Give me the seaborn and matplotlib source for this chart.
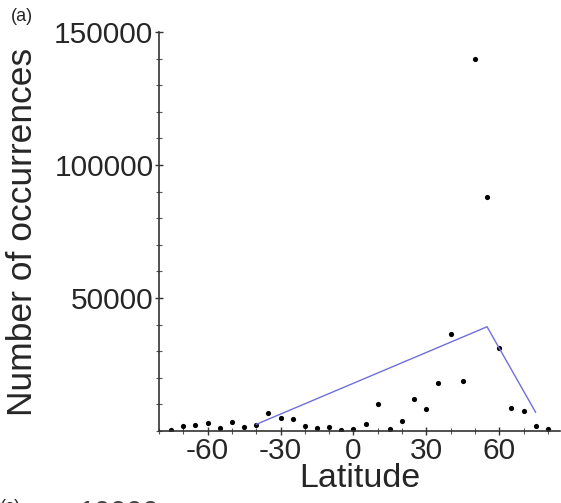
# %% IMPORTS
import matplotlib
matplotlib.use("Agg")
from matplotlib import ticker
import matplotlib.pyplot as plt
import pandas as pd
import seaborn as sns

# %% DATA
latitude = [-75, -70, -65, -60, -55, -50, -45, -40, -35, -30, -25, -20, -15, -10, -5, 0,
            5, 10, 15, 20, 25, 30, 35, 40, 45, 50, 55, 60, 65, 70, 75, 80]
occurrences = [500, 2000, 2400, 3000, 1000, 3500, 1400, 2400, 6800, 4900, 4400, 2000,
               1000, 1600, 400, 750, 2500, 10000, 750, 3900, 11900, 8300, 17900, 36300,
               18800, 140000, 88000, 31100, 8600, 7500, 1900, 750]

# Piecewise fit drawn in blue
fit_latitude = [-40, 55, 75]
fit_occurrences = [2500, 39200, 7000]

# %% PLOT
sns.set_style("ticks")
plt.rcParams["font.family"] = ["Liberation Sans", "DejaVu Sans"]
plt.rcParams["axes.unicode_minus"] = False

fig = plt.figure(figsize=(5.61, 5.03), dpi=100)
ax = fig.add_axes([0.2834, 0.1431, 0.7148, 0.7932])

df = pd.DataFrame({"lat": latitude, "n": occurrences})
fit = pd.DataFrame({"lat": fit_latitude, "n": fit_occurrences})

sns.lineplot(data=fit, x="lat", y="n", ax=ax, color="#6f6fdc", linewidth=1.0)
sns.scatterplot(data=df, x="lat", y="n", ax=ax, color="black", s=14, linewidth=0)

ax.set_xlim(-80, 85)
ax.set_ylim(0, 150000)
sns.despine(ax=ax)
for side in ["left", "bottom"]:
    ax.spines[side].set_color("#333333")
    ax.spines[side].set_linewidth(1.2)

ax.xaxis.set_major_locator(ticker.MultipleLocator(30))
ax.xaxis.set_minor_locator(ticker.MultipleLocator(10))
ax.yaxis.set_major_locator(ticker.MultipleLocator(50000))
ax.yaxis.set_minor_locator(ticker.MultipleLocator(10000))
ax.tick_params(axis="both", which="major", labelsize=21.5, direction="inout",
               length=6, width=1, color="#333333", pad=1)
ax.tick_params(axis="both", which="minor", direction="inout", length=4, width=0.8,
               color="#555555")
ax.set_yticks([50000, 100000, 150000])

ax.set_xlabel("Latitude", fontsize=24.5, labelpad=-1)
ax.set_ylabel("Number of occurrences", fontsize=25.5, labelpad=11)

# Panel letters (the next panel is cut off at the bottom edge)
fig.text(0.02, 0.985, "(a)", fontsize=13, va="top", ha="left")
fig.text(0.0, 0.008, "(c)", fontsize=13, va="top", ha="left")
fig.text(0.14, 0.008, "10000", fontsize=21, va="top", ha="left", color="#444444")

fig.savefig("out.png", dpi=100)
